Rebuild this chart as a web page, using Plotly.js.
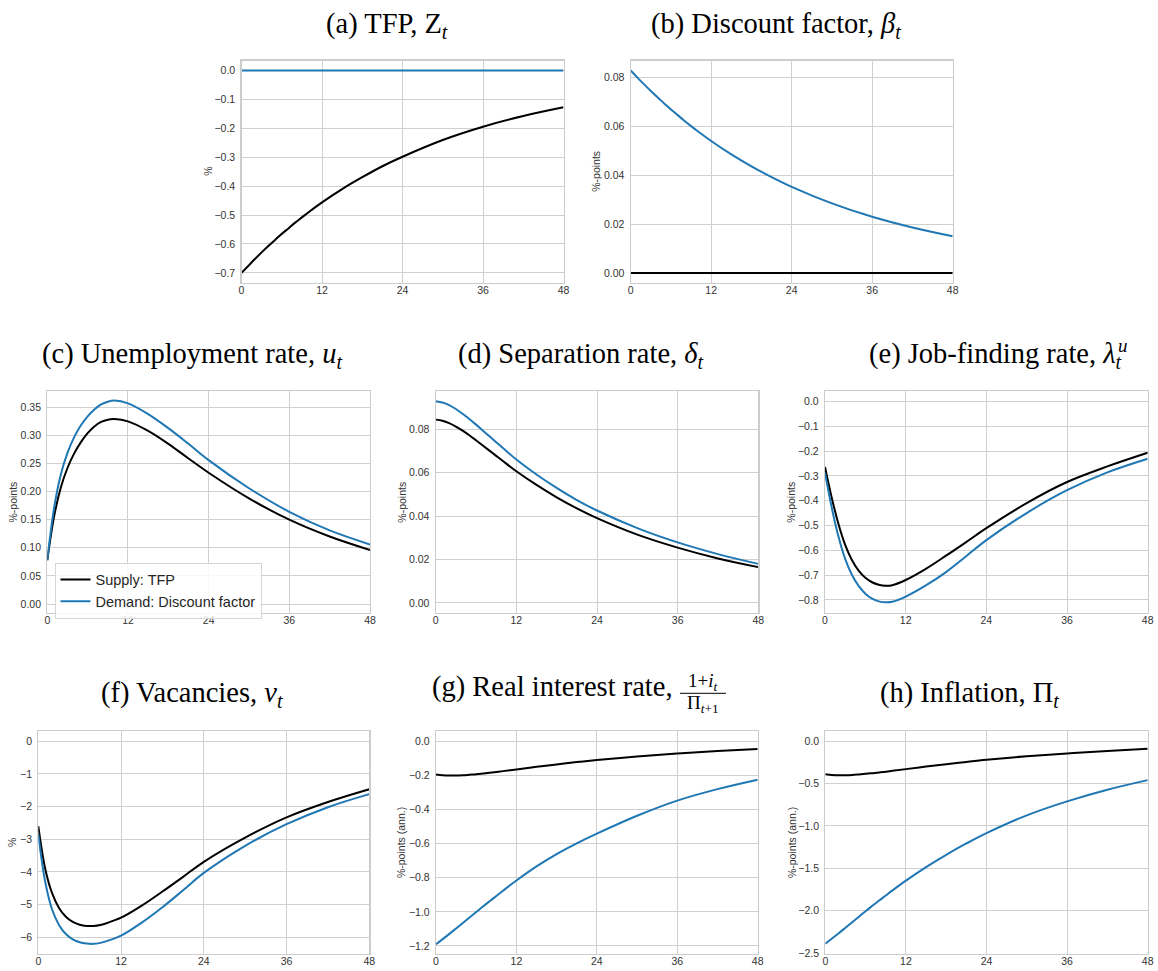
<!DOCTYPE html>
<html>
<head>
<meta charset="utf-8">
<script src="https://cdn.plot.ly/plotly-3.0.1.min.js"></script>
<style>html,body{margin:0;padding:0;background:#fff;}#chart{width:1158px;height:971px;}</style>
</head>
<body>
<div id="chart"></div>
<script>
// ---- data (periods) ----
const T = [0,1,2,3,4,5,6,7,8,9,10,12,15,18,21,24,30,36,42,48];
const xTicks = [0,12,24,36,48];
const seriesNames = ['Supply: TFP', 'Demand: Discount factor'];

// (a) TFP
const tfpSupply = [-0.700,-0.676,-0.652,-0.629,-0.607,-0.586,-0.565,-0.546,-0.526,-0.508,-0.490,-0.456,-0.410,-0.369,-0.331,-0.298,-0.240,-0.194,-0.157,-0.127];
const tfpDemand = [0,0,0,0,0,0,0,0,0,0,0,0,0,0,0,0,0,0,0,0];
// (b) Discount factor
const betaSupply = [0,0,0,0,0,0,0,0,0,0,0,0,0,0,0,0,0,0,0,0];
const betaDemand = [0.0830,0.0801,0.0773,0.0746,0.0720,0.0695,0.0670,0.0647,0.0624,0.0602,0.0581,0.0541,0.0486,0.0437,0.0393,0.0353,0.0285,0.0230,0.0186,0.0150];
// (c) Unemployment rate
const uSupply = [0.078,0.155,0.207,0.242,0.268,0.288,0.304,0.316,0.324,0.328,0.329,0.325,0.308,0.285,0.259,0.2336,0.188,0.150,0.120,0.096];
const uDemand = [0.078,0.170,0.230,0.269,0.297,0.318,0.334,0.346,0.355,0.360,0.362,0.357,0.338,0.313,0.285,0.256,0.206,0.164,0.131,0.106];
// (d) Separation rate
const sepSupply = [0.0845,0.0840,0.0829,0.0813,0.0794,0.0773,0.0750,0.0726,0.0702,0.0678,0.0654,0.0607,0.0544,0.0487,0.0436,0.0391,0.0315,0.0255,0.0205,0.0165];
const sepDemand = [0.0930,0.0924,0.0912,0.0894,0.0872,0.0848,0.0822,0.0795,0.0768,0.0741,0.0714,0.0661,0.0592,0.0530,0.0474,0.0426,0.0345,0.0279,0.0225,0.0180];
// (e) Job-finding rate
const jfSupply = [-0.264,-0.388,-0.494,-0.578,-0.639,-0.682,-0.711,-0.729,-0.739,-0.743,-0.741,-0.720,-0.675,-0.622,-0.567,-0.511,-0.410,-0.325,-0.262,-0.207];
const jfDemand = [-0.288,-0.428,-0.545,-0.635,-0.699,-0.744,-0.775,-0.795,-0.806,-0.810,-0.808,-0.787,-0.742,-0.688,-0.624,-0.559,-0.450,-0.358,-0.286,-0.231];
// (f) Vacancies
const vSupply = [-2.60,-3.90,-4.65,-5.10,-5.37,-5.53,-5.615,-5.65,-5.65,-5.62,-5.56,-5.40,-5.03,-4.60,-4.15,-3.69,-2.95,-2.33,-1.86,-1.47];
const vDemand = [-2.85,-4.30,-5.15,-5.62,-5.90,-6.06,-6.15,-6.19,-6.20,-6.17,-6.11,-5.95,-5.55,-5.08,-4.56,-4.03,-3.20,-2.54,-2.02,-1.62];
// (g) Real interest rate
const rSupply = [-0.195,-0.199,-0.201,-0.201,-0.199,-0.196,-0.193,-0.189,-0.185,-0.180,-0.175,-0.165,-0.150,-0.136,-0.122,-0.110,-0.089,-0.072,-0.057,-0.045];
const rDemand = [-1.190,-1.160,-1.129,-1.097,-1.065,-1.033,-1.001,-0.969,-0.938,-0.907,-0.876,-0.816,-0.7335,-0.6615,-0.5985,-0.5415,-0.4365,-0.3477,-0.2805,-0.2253];
// (h) Inflation
const piSupply = [-0.390,-0.398,-0.402,-0.402,-0.399,-0.393,-0.386,-0.378,-0.370,-0.360,-0.350,-0.330,-0.300,-0.272,-0.245,-0.220,-0.178,-0.145,-0.115,-0.090];
const piDemand = [-2.390,-2.328,-2.265,-2.200,-2.135,-2.070,-2.005,-1.942,-1.880,-1.820,-1.760,-1.645,-1.485,-1.340,-1.207,-1.085,-0.875,-0.710,-0.573,-0.460];

// ---- layout helpers ----
const W = 1158, H = 971;
const px = x => x / W;
const py = y => 1 - y / H;

const panels = [
  {s: tfpSupply, d: tfpDemand, xd: [241.5, 563.5], yd: [60.5, 283], range: [-0.735, 0.035], dtick: 0.1, fmt: '.1f', ylab: '%', labX: 208},
  {s: betaSupply, d: betaDemand, xd: [630.7, 952.7], yd: [60.5, 283], range: [-0.00415, 0.0871], dtick: 0.02, fmt: '.2f', ylab: '%-points', labX: 596},
  {s: uSupply, d: uDemand, xd: [47.3, 370], yd: [391, 613], range: [-0.016, 0.379], dtick: 0.05, fmt: '.2f', ylab: '%-points', labX: 12.5, legend: true},
  {s: sepSupply, d: sepDemand, xd: [435.7, 758.3], yd: [391, 613], range: [-0.00465, 0.0977], dtick: 0.02, fmt: '.2f', ylab: '%-points', labX: 401.7},
  {s: jfSupply, d: jfDemand, xd: [825, 1147.7], yd: [391, 613], range: [-0.853, 0.042], dtick: 0.1, fmt: '.1f', ylab: '%-points', labX: 790.7},
  {s: vSupply, d: vDemand, xd: [38.3, 369.3], yd: [730.7, 954], range: [-6.51, 0.32], dtick: 1, fmt: 'd', ylab: '%', labX: 12.7},
  {s: rSupply, d: rDemand, xd: [436, 757.7], yd: [730.7, 954], range: [-1.247, 0.062], dtick: 0.2, fmt: '.1f', ylab: '%-points (ann.)', labX: 401.7},
  {s: piSupply, d: piDemand, xd: [825.3, 1147.7], yd: [730.7, 954], range: [-2.51, 0.123], dtick: 0.5, fmt: '.1f', ylab: '%-points (ann.)', labX: 792.7}
];

const tickFont = {family: 'Liberation Sans, Arial, sans-serif', size: 10.5, color: '#333'};
const titleFont = {family: 'Liberation Serif, Times New Roman, serif', size: 28.5, color: '#000'};
const fracFont = {family: 'Liberation Serif, Times New Roman, serif', size: 19, color: '#000'};
const gridColor = '#d0d0d0';

const traces = [];
const layout = {
  width: W, height: H,
  margin: {l: 0, r: 0, t: 0, b: 0},
  paper_bgcolor: '#fff', plot_bgcolor: '#fff',
  showlegend: true,
  legend: {
    x: px(54.5), y: py(562.5), xanchor: 'left', yanchor: 'top',
    bgcolor: 'rgba(255,255,255,0.85)', bordercolor: '#d6d6d6', borderwidth: 1,
    font: {family: 'Liberation Sans, Arial, sans-serif', size: 14.5, color: '#262626'},
    itemwidth: 30, tracegroupgap: 0
  },
  annotations: [], shapes: []
};

panels.forEach((p, i) => {
  const n = i + 1;
  const xa = 'x' + (n === 1 ? '' : n), ya = 'y' + (n === 1 ? '' : n);
  const xk = 'xaxis' + (n === 1 ? '' : n), yk = 'yaxis' + (n === 1 ? '' : n);
  traces.push({x: T, y: p.s, xaxis: xa, yaxis: ya, type: 'scatter', mode: 'lines',
    name: seriesNames[0], showlegend: !!p.legend, line: {color: '#000000', width: 2, shape: 'spline', smoothing: 1}});
  traces.push({x: T, y: p.d, xaxis: xa, yaxis: ya, type: 'scatter', mode: 'lines',
    name: seriesNames[1], showlegend: !!p.legend, line: {color: '#1f77b4', width: 2, shape: 'spline', smoothing: 1}});
  layout[xk] = {
    domain: [px(p.xd[0]), px(p.xd[1])], anchor: ya, range: [0, 48],
    tickvals: xTicks, ticks: '', ticklabelstandoff: -3,
    tickfont: tickFont, showgrid: true, gridcolor: gridColor, gridwidth: 1,
    zeroline: false, showline: true, linecolor: '#cccccc', linewidth: 1.2, mirror: true
  };
  layout[yk] = {
    domain: [py(p.yd[1]), py(p.yd[0])], anchor: xa, range: p.range,
    dtick: p.dtick, tick0: 0, tickformat: p.fmt, ticks: 'outside', ticklen: 3, tickcolor: 'rgba(0,0,0,0)',
    tickfont: tickFont, showgrid: true, gridcolor: gridColor, gridwidth: 1,
    zeroline: false, showline: true, linecolor: '#cccccc', linewidth: 1.2, mirror: true
  };
  layout.annotations.push({
    xref: 'paper', yref: 'paper', x: px(p.labX), y: py((p.yd[0] + p.yd[1]) / 2),
    text: p.ylab, textangle: -90, showarrow: false, xanchor: 'center', yanchor: 'middle',
    font: {family: 'Liberation Sans, Arial, sans-serif', size: 10.5, color: '#333'}
  });
});

// ---- panel titles ----
const titles = [
  {text: '(a) TFP, Z<sub><i>t</i></sub>', x: 387, y: 25, xanchor: 'center'},
  {text: '(b) Discount factor, <i>β<sub>t</sub></i>', x: 776, y: 25, xanchor: 'center'},
  {text: '(c) Unemployment rate, <i>u<sub>t</sub></i>', x: 191.7, y: 355, xanchor: 'center'},
  {text: '(d) Separation rate, <i>δ<sub>t</sub></i>', x: 581, y: 355, xanchor: 'center'},
  {text: '(e) Job-finding rate, <i>λ<sub>t</sub></i>', x: 1124, y: 355, xanchor: 'right'},
  {text: '(f) Vacancies, <i>v<sub>t</sub></i>', x: 191.7, y: 694, xanchor: 'center'},
  {text: '(g) Real interest rate,', x: 675, y: 687, xanchor: 'right'},
  {text: '(h) Inflation, Π<sub><i>t</i></sub>', x: 969, y: 694, xanchor: 'center'}
];
titles.forEach(t => layout.annotations.push({
  xref: 'paper', yref: 'paper', x: px(t.x), y: py(t.y), text: t.text, showarrow: false,
  xanchor: t.xanchor, yanchor: 'middle', font: titleFont
}));
// superscript u of the job-finding rate
layout.annotations.push({xref: 'paper', yref: 'paper', x: px(1116), y: py(346), text: '<i>u</i>',
  showarrow: false, xanchor: 'left', yanchor: 'middle', font: fracFont});
// fraction (1+i_t)/Pi_{t+1}
layout.annotations.push({xref: 'paper', yref: 'paper', x: px(703), y: py(682), text: '1+<i>i<sub>t</sub></i>',
  showarrow: false, xanchor: 'center', yanchor: 'middle', font: fracFont});
layout.annotations.push({xref: 'paper', yref: 'paper', x: px(703), y: py(704), text: 'Π<sub><i>t</i>+1</sub>',
  showarrow: false, xanchor: 'center', yanchor: 'middle', font: fracFont});
layout.shapes.push({type: 'line', xref: 'paper', yref: 'paper', x0: px(680), x1: px(726), y0: py(693.3), y1: py(693.3),
  line: {color: '#000', width: 1}});

Plotly.newPlot('chart', traces, layout, {staticPlot: true, displayModeBar: false});
</script>
</body>
</html>
